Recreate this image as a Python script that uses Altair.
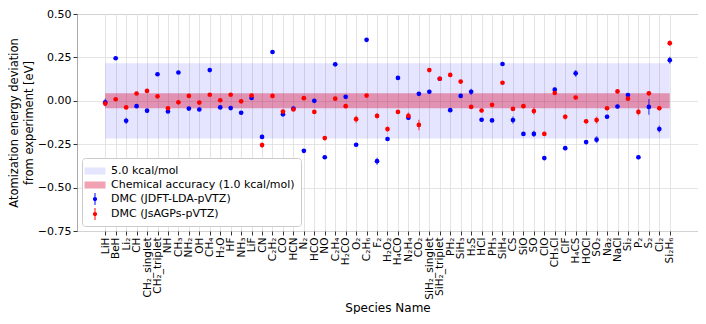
import altair as alt
import pandas as pd

species = ["LiH", "BeH", "Li₂", "CH", "CH₂_singlet", "CH₂_triplet", "NH", "CH₃", "NH₂", "OH",
           "CH₄", "H₂O", "HF", "NH₃", "LiF", "CN", "C₂H₂", "CO", "HCN", "N₂",
           "HCO", "NO", "C₂H₄", "H₂CO", "O₂", "C₂H₆", "F₂", "H₂O₂", "H₄CO", "N₂H₄",
           "CO₂", "SiH₂_singlet", "SiH₂_triplet", "PH₂", "SiH₃", "H₂S", "HCl", "PH₃", "SiH₄", "CS",
           "SiO", "SO", "ClO", "CH₃Cl", "ClF", "H₄CS", "HOCl", "SO₂", "Na₂", "NaCl",
           "Si₂", "P₂", "S₂", "Cl₂", "Si₂H₆"]

jdft = [-0.009, 0.245, -0.115, -0.031, -0.057, 0.153, -0.061, 0.163, -0.045, -0.050,
        0.177, -0.038, -0.042, -0.069, 0.016, -0.208, 0.281, -0.078, -0.045, -0.288,
        0.000, -0.325, 0.210, 0.023, -0.253, 0.351, -0.348, -0.220, 0.132, -0.097,
        0.040, 0.052, 0.127, -0.054, 0.028, 0.052, -0.109, -0.113, 0.212, -0.111,
        -0.191, -0.191, -0.330, 0.064, -0.273, 0.158, -0.238, -0.224, -0.092, -0.033,
        0.033, -0.325, -0.035, -0.163, 0.234]
jdft_err = [0.022, 0.008, 0.018, 0.008, 0.010, 0.010, 0.010, 0.008, 0.008, 0.010,
            0.008, 0.008, 0.008, 0.008, 0.008, 0.012, 0.008, 0.010, 0.010, 0.010,
            0.010, 0.008, 0.010, 0.008, 0.010, 0.010, 0.020, 0.012, 0.010, 0.012,
            0.010, 0.010, 0.010, 0.008, 0.012, 0.018, 0.010, 0.008, 0.010, 0.020,
            0.010, 0.018, 0.012, 0.012, 0.012, 0.020, 0.012, 0.020, 0.012, 0.012,
            0.012, 0.012, 0.045, 0.020, 0.020]

jsagp = [-0.016, 0.009, -0.038, 0.042, 0.057, 0.026, -0.043, -0.009, 0.028, -0.010,
         0.035, 0.003, 0.035, -0.003, 0.030, -0.255, 0.028, -0.062, -0.050, 0.015,
         -0.064, -0.215, 0.012, -0.031, -0.106, 0.030, -0.087, -0.163, -0.064, -0.087,
         -0.139, 0.177, 0.127, 0.149, 0.111, -0.035, -0.056, -0.023, 0.104, -0.047,
         -0.031, -0.059, -0.191, 0.045, -0.092, 0.019, -0.118, -0.111, -0.043, 0.054,
         0.012, -0.064, 0.043, -0.043, 0.332]
jsagp_err = [0.010, 0.008, 0.008, 0.008, 0.008, 0.008, 0.008, 0.008, 0.008, 0.008,
             0.008, 0.008, 0.008, 0.008, 0.008, 0.015, 0.008, 0.010, 0.008, 0.008,
             0.010, 0.012, 0.010, 0.008, 0.020, 0.008, 0.015, 0.015, 0.010, 0.020,
             0.030, 0.010, 0.008, 0.008, 0.010, 0.010, 0.010, 0.008, 0.010, 0.012,
             0.010, 0.020, 0.012, 0.012, 0.015, 0.010, 0.012, 0.020, 0.012, 0.010,
             0.010, 0.020, 0.012, 0.012, 0.015]

band_labels = ["5.0 kcal/mol", "Chemical accuracy (1.0 kcal/mol)"]
band_half = [0.2168, 0.04336]
series_labels = ["DMC (JDFT-LDA-pVTZ)", "DMC (JsAGPs-pVTZ)"]

rows = []
for i, name in enumerate(species):
    for lab, vals, errs in ((series_labels[0], jdft, jdft_err), (series_labels[1], jsagp, jsagp_err)):
        rows.append(dict(idx=i, name=name, series=lab, v=vals[i],
                         lo=vals[i] - errs[i], hi=vals[i] + errs[i]))
df = pd.DataFrame(rows)

bands = pd.DataFrame({"series": band_labels,
                      "lo": [-h for h in band_half],
                      "hi": band_half,
                      "x0": [0, 0],
                      "x1": [len(species) - 1, len(species) - 1]})

domain = band_labels + series_labels
color_scale = alt.Scale(domain=domain,
                        range=["rgba(0,0,255,0.1)", "rgba(220,20,60,0.4)", "#0000ff", "#ff0000"])
rect_path = "M-1.5,-0.5H1.5V0.5H-1.5Z"
pt_path = ("M-0.07,-0.85H0.07V0.85H-0.07Z "
           "M-0.3,0A0.3,0.3 0 1,1 0.3,0A0.3,0.3 0 1,1 -0.3,0Z")
shape_scale = alt.Scale(domain=domain, range=[rect_path, rect_path, pt_path, pt_path])

labels_js = "[" + ",".join("'" + s + "'" for s in species) + "]"

x_scale = alt.Scale(domain=[-2.7, len(species) - 1 + 2.7], nice=False, zero=False)
x_axis = alt.Axis(values=list(range(len(species))), labelExpr=labels_js + "[datum.value]",
                  labelAngle=270, labelAlign="right", labelBaseline="middle",
                  labelOverlap=False, labelFontSize=10.5, labelPadding=2,
                  title="Species Name", titleFontSize=12, titleFontWeight="normal",
                  titlePadding=3, grid=True, domain=False, tickSize=4)
x_enc = alt.X("idx:Q", scale=x_scale, axis=x_axis)
y_axis = alt.Axis(values=[-0.75, -0.5, -0.25, 0.0, 0.25, 0.5], format=".2f",
                  labelFontSize=11, labelPadding=2,
                  title=["Atomization energy deviation", "from experiment [eV]"],
                  titleFontSize=11.5, titleLineHeight=14.5, titleFontWeight="normal", titlePadding=3,
                  grid=True, domain=False, tickSize=4)
y_scale = alt.Scale(domain=[-0.75, 0.5], nice=False, zero=False)

legend = alt.Legend(title=None, orient="bottom-left", offset=5, fillColor="white",
                    strokeColor="#cccccc", cornerRadius=3, padding=6, symbolSize=196,
                    symbolStrokeWidth=0, labelFontSize=11, labelLimit=400, rowPadding=2,
                    labelOffset=9)

band_layer = alt.Chart(bands).mark_rect().encode(
    x=alt.X("x0:Q", scale=x_scale, axis=x_axis),
    x2="x1:Q",
    y=alt.Y("lo:Q", scale=y_scale, axis=y_axis),
    y2="hi:Q",
    color=alt.Color("series:N", scale=color_scale, legend=legend),
)

err_blue = alt.Chart(df).transform_filter(alt.datum.series == series_labels[0]).mark_rule(
    color="#0000ff", opacity=0.55, strokeWidth=1.5).encode(
    x=x_enc, y=alt.Y("lo:Q", scale=y_scale, axis=y_axis), y2="hi:Q")
err_red = alt.Chart(df).transform_filter(alt.datum.series == series_labels[1]).mark_rule(
    color="#ff0000", opacity=0.55, strokeWidth=1.5).encode(
    x=x_enc, y=alt.Y("lo:Q", scale=y_scale, axis=y_axis), y2="hi:Q")

points = alt.Chart(df).mark_point(filled=True, shape="circle", size=22, opacity=1).encode(
    x=x_enc,
    y=alt.Y("v:Q", scale=y_scale, axis=y_axis),
    color=alt.Color("series:N", scale=color_scale, legend=legend),
)

legend_carrier = alt.Chart(df).transform_filter("false").mark_point(filled=True, opacity=1).encode(
    x=x_enc,
    y=alt.Y("v:Q", scale=y_scale, axis=y_axis),
    color=alt.Color("series:N", scale=color_scale, legend=legend),
    shape=alt.Shape("series:N", scale=shape_scale, legend=legend),
)

chart = alt.layer(band_layer, err_blue, err_red, points, legend_carrier).properties(
    width=690, height=306,
    autosize=alt.AutoSizeParams(type="fit", contains="padding"),
    padding={"left": 0, "top": 0, "right": 0, "bottom": 0},
).configure(font="DejaVu Sans").configure_axis(
    gridColor="#dddddd", gridWidth=0.8, tickColor="#333333", labelColor="black", titleColor="black"
).configure_view(stroke="#aaaaaa", strokeWidth=1)

chart.save("out.html", embed_options={"renderer": "svg", "actions": False})
